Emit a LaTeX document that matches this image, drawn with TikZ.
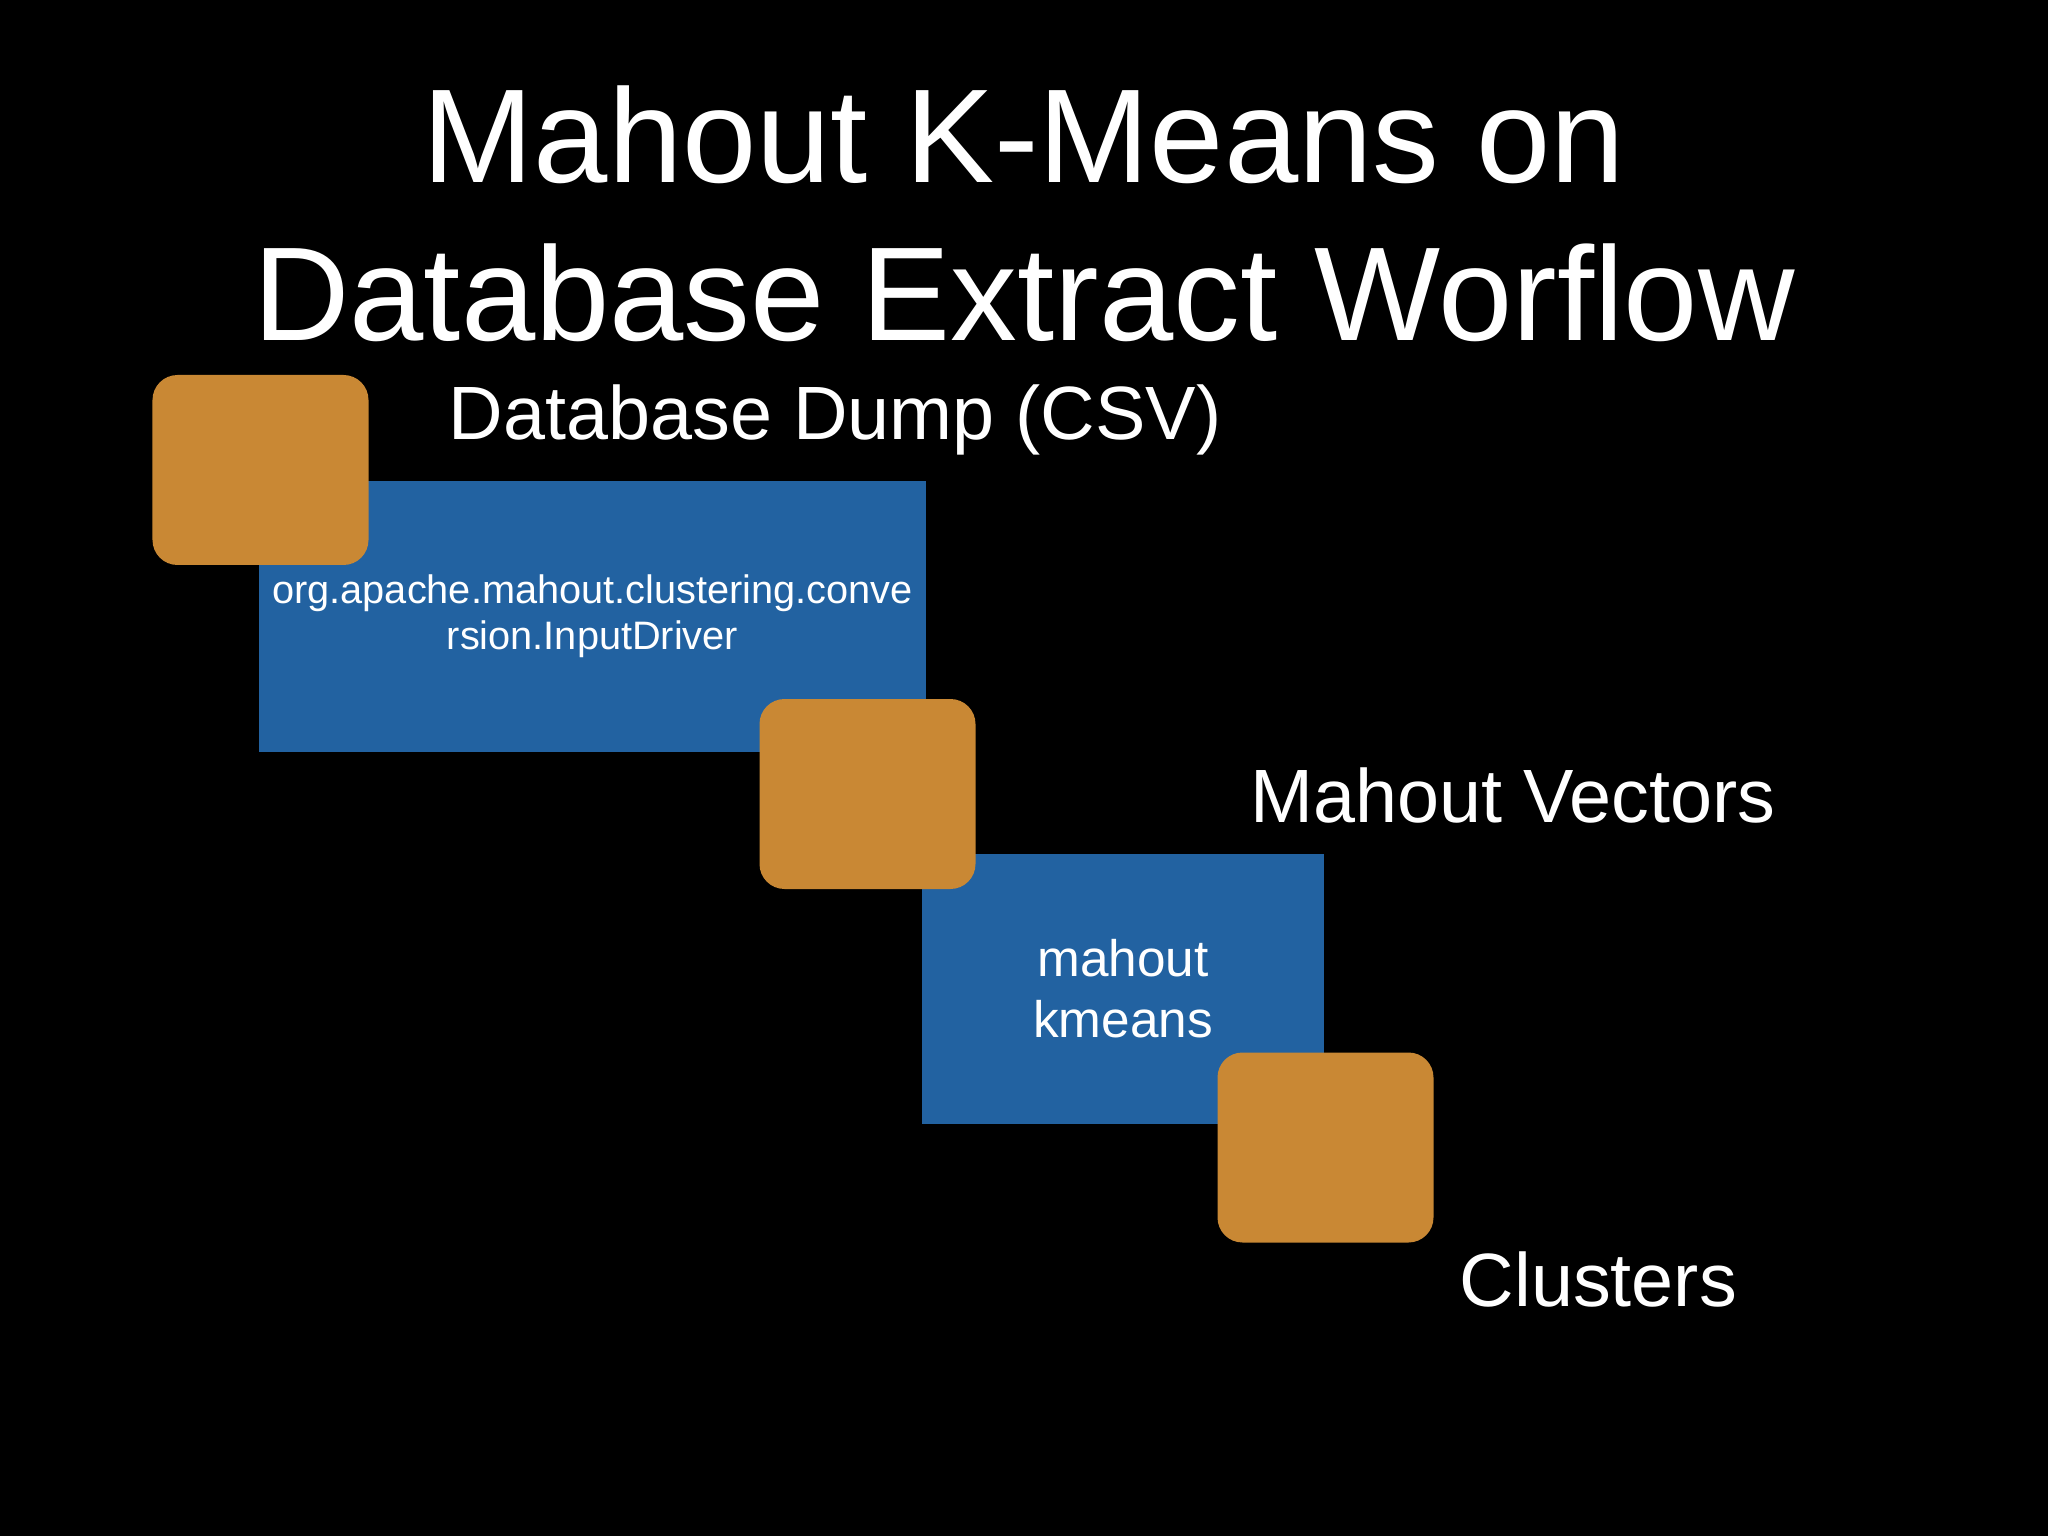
\documentclass[tikz,border=0pt]{standalone}
\usepackage{fontspec}
\setmainfont{Liberation Sans}
\definecolor{boxorange}{RGB}{201,136,52}
\definecolor{boxblue}{RGB}{34,98,161}
\begin{document}
\begin{tikzpicture}[
    stage/.style={shape=rectangle, fill=boxblue, text=white, inner sep=0pt, align=center},
    data/.style={shape=rectangle, rounded corners=0.25cm, fill=boxorange, inner sep=0pt, minimum width=2.16cm, minimum height=1.90cm},
    caption/.style={text=white, anchor=base west, inner sep=0pt, font=\fontsize{21.5}{25}\selectfont}
    ]
            \fill[black] (0,0) rectangle (20.48,-15.36);
            \useasboundingbox (0,0) rectangle (20.48,-15.36);

            \node [text=white, align=center, inner sep=0pt, font=\fontsize{38}{45.1}\selectfont] (title) at (10.24,-2.14) {Mahout K-Means on\\Database Extract Worflow};

            \node [stage, minimum width=6.67cm, minimum height=2.71cm, font=\fontsize{11.3}{13.1}\selectfont] (convert) at (5.925,-6.165) {org.apache.mahout.clustering.conve\\rsion.InputDriver};
            \node [stage, minimum width=4.02cm, minimum height=2.70cm, font=\fontsize{14.6}{17.35}\selectfont] (kmeans) at (11.23,-9.89) {mahout\\kmeans};

            \node [data] (dump) at (2.605,-4.70) {};
            \node [data] (vectors) at (8.675,-7.94) {};
            \node [data] (clusters) at (13.255,-11.475) {};

            \node [caption] (dumplabel) at (4.48,-4.40) {Database Dump (CSV)};
            \node [caption] (vectorslabel) at (12.50,-8.23) {Mahout Vectors};
            \node [caption] (clusterslabel) at (14.59,-13.06) {Clusters};
\end{tikzpicture}
\end{document}
